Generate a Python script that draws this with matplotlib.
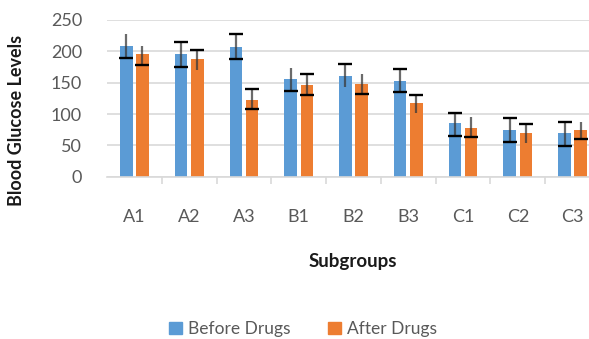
import numpy as np
import matplotlib
matplotlib.use("Agg")
import matplotlib.pyplot as plt
from matplotlib.patches import Patch

plt.rcParams["font.family"] = ["Lato", "DejaVu Sans"]

# ── data ──────────────────────────────────────────────────────────────────────
subgroups = ["A1", "A2", "A3", "B1", "B2", "B3", "C1", "C2", "C3"]
before = [209, 195, 207, 156, 160, 152, 85, 74, 70]
after = [195, 187, 123, 146, 148, 117, 78, 70, 74]

# error bar ends (low, high)
before_lo = [190, 175, 188, 137, 143, 135, 65, 55, 49]
before_hi = [228, 215, 228, 174, 180, 172, 102, 94, 88]
after_lo = [178, 170, 108, 131, 132, 101, 63, 54, 60]
after_hi = [208, 202, 140, 164, 164, 131, 95, 84, 88]

# which ends carry a cap in the original
before_cap_hi = [0, 1, 1, 0, 1, 1, 1, 1, 1]
before_cap_lo = [1, 1, 1, 1, 0, 1, 1, 1, 1]
after_cap_hi = [0, 1, 1, 1, 0, 1, 0, 1, 0]
after_cap_lo = [1, 0, 1, 1, 1, 0, 1, 0, 1]

BLUE = "#5B9BD5"
ORANGE = "#ED7D31"
GRID = "#D9D9D9"
TXT = "#595959"

fig = plt.figure(figsize=(5.89, 3.39), dpi=100)
ax = fig.add_axes([107 / 589, 162.3 / 339, 493 / 589, 156.7 / 339])

x = np.arange(len(subgroups))
w = 0.23
off = 0.148


def draw_series(xs, vals, lo, hi, cap_lo, cap_hi, color):
    ax.bar(xs, vals, width=w, color=color, zorder=2)
    ax.vlines(xs, lo, hi, color="#3a3a3a", lw=1.6, alpha=0.75, zorder=3)
    for xi, l, h, cl, ch in zip(xs, lo, hi, cap_lo, cap_hi):
        if cl:
            ax.plot(xi, l, marker="_", ms=9.5, mew=1.7, color="black", zorder=4)
        if ch:
            ax.plot(xi, h, marker="_", ms=9.5, mew=1.7, color="black", zorder=4)


draw_series(x - off, before, before_lo, before_hi, before_cap_lo, before_cap_hi, BLUE)
draw_series(x + off, after, after_lo, after_hi, after_cap_lo, after_cap_hi, ORANGE)

ax.set_xlim(-0.5, len(subgroups) - 0.5)
ax.set_ylim(0, 250)
ax.set_yticks([0, 50, 100, 150, 200, 250])
ax.yaxis.grid(True, color=GRID, lw=1.2, zorder=0)
ax.set_axisbelow(True)

for s in ["top", "right", "left"]:
    ax.spines[s].set_visible(False)
ax.spines["bottom"].set_color(GRID)
ax.spines["bottom"].set_linewidth(1.2)

ax.set_xticks(x)
ax.set_xticklabels(subgroups)
ax.set_xticks(np.arange(0.5, len(subgroups) - 0.5, 1), minor=True)
ax.tick_params(axis="x", which="major", length=0, pad=23, labelsize=13, labelcolor=TXT)
ax.tick_params(axis="x", which="minor", length=5, width=1.2, color=GRID)
ax.tick_params(axis="y", length=0, pad=18, labelsize=13, labelcolor=TXT)

fig.text(17 / 589, 1 - 120 / 339, "Blood Glucose Levels", rotation=90,
         ha="center", va="center", fontsize=13, fontweight="bold", color="#1a1a1a")
fig.text(353 / 589, 1 - 262 / 339, "Subgroups", ha="center", va="center",
         fontsize=13.5, fontweight="bold", color="#1a1a1a")

handles = [Patch(color=BLUE, label="Before Drugs"), Patch(color=ORANGE, label="After Drugs")]
fig.legend(handles=handles, loc="center", bbox_to_anchor=(303 / 589, 1 - 329 / 339),
           ncol=2, frameon=False, fontsize=12.5, labelcolor=TXT,
           handlelength=0.75, handleheight=0.75, handletextpad=0.35, columnspacing=2.2)

fig.savefig("out.png", dpi=100)
